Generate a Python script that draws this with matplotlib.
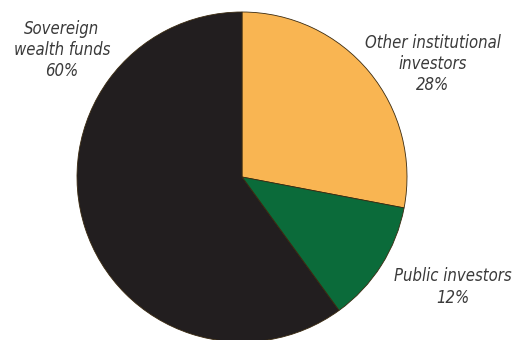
import matplotlib
matplotlib.use("Agg")
import matplotlib.pyplot as plt
from matplotlib.transforms import Affine2D

labels = ["Other institutional\ninvestors", "Public investors", "Sovereign\nwealth funds"]
shares = [28, 12, 60]
colors = ["#F9B552", "#0B6B3A", "#221E1F"]

fig = plt.figure(figsize=(5.2, 3.4), dpi=100)
ax = fig.add_axes([0, 0, 1, 1])

# pie starts at 12 o'clock and runs clockwise
ax.pie(shares, colors=colors, startangle=90, counterclock=False,
       center=(242, -177), radius=165,
       wedgeprops=dict(edgecolor="#3a2a10", linewidth=0.6))
# pie works y-up, flip into pixel-like coords (y down)
for p in ax.patches:
    p.set_transform(Affine2D().scale(1, -1) + ax.transData)
ax.set_xlim(0, 520)
ax.set_ylim(340, 0)
ax.set_aspect('equal')
ax.axis('off')

txt = dict(family='DejaVu Sans', stretch='condensed', style='italic',
           color='#3a3a3a', fontsize=12, ha='center', va='center',
           linespacing=1.25)
ax.text(433, 64, labels[0] + "\n%d%%" % shares[0], **txt)
ax.text(453, 287, labels[1] + "\n%d%%" % shares[1], **txt)
ax.text(62, 50, labels[2] + "\n%d%%" % shares[2], **txt)

fig.savefig("out.png", dpi=100)
